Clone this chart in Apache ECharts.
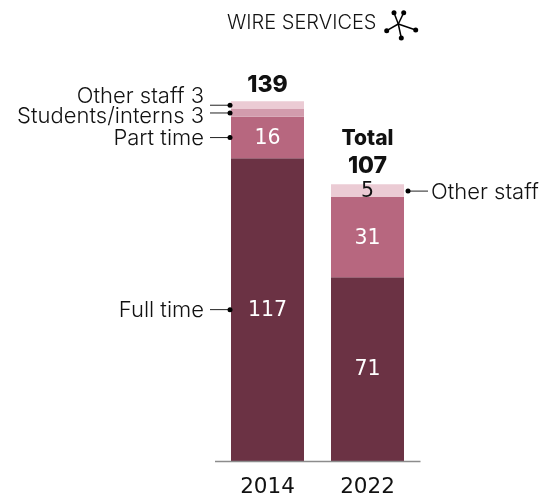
<!DOCTYPE html>
<html><head><meta charset="utf-8">
<style>html,body{margin:0;padding:0;background:#fff}#c{width:541px;height:498px}</style>
<script src="https://cdn.jsdelivr.net/npm/echarts@6/dist/echarts.min.js"></script>
</head><body><div id="c"></div>
<script>
const years = ['2014', '2022'];
const fullTime = [117, 71];
const partTime = [16, 31];
const students = [3, null];
const otherStaff = [3, 5];
const totals = [139, 107];
const FONT = 'Inter, sans-serif';
const NUM = '"DejaVu Sans", sans-serif';

const chart = echarts.init(document.getElementById('c'), null, {renderer: 'canvas'});
function seg(name, data, color, labelColor, minShow) {
  return {
    name, type: 'bar', stack: 'a', barWidth: 73, silent: true,
    itemStyle: {color},
    data: data.map(v => ({value: v, label: {show: v !== null && v >= minShow}})),
    label: {show: true, position: 'inside', offset: [0, 1], color: labelColor, fontFamily: NUM, fontSize: 20.5, fontWeight: 400}
  };
}
chart.setOption({
  animation: false,
  grid: {left: 217.5, width: 200, top: 47, height: 417},
  xAxis: {type: 'category', data: years, axisTick: {show: false}, axisLine: {show: false},
    axisLabel: {color: '#111', fontFamily: NUM, fontSize: 21.5, fontWeight: 400, margin: 15}},
  yAxis: {type: 'value', min: 0, max: 160, show: false},
  series: [
    seg('Full time', fullTime, '#6b3244', '#fff', 6),
    seg('Part time', partTime, '#b7677f', '#fff', 6),
    seg('Students/interns', students, '#d29cad', '#111', 4),
    seg('Other staff', otherStaff, '#ebcbd4', '#111', 4)
  ]
});

const px = (i, v) => chart.convertToPixel({xAxisIndex: 0, yAxisIndex: 0}, [years[i], v]);
const g = [];
const text = (x, y, t, align, extra) => g.push({type: 'text', silent: true, z: 100, style: Object.assign({
  x, y, text: t, align, verticalAlign: 'middle', fill: '#111', fontFamily: FONT, fontSize: 22, fontWeight: 350}, extra || {})});
const line = (x1, y1, x2, y2, color, w) => g.push({type: 'line', silent: true, z: 100,
  shape: {x1, y1, x2, y2}, style: {stroke: color, lineWidth: w}});
const dot = (x, y, r) => g.push({type: 'circle', silent: true, z: 101, shape: {cx: x, cy: y, r}, style: {fill: '#000'}});

// baseline
const base = px(0, 0)[1];
line(215, base + 0.5, 420.5, base + 0.5, '#8c8c8c', 1.5);

// left annotations on the 2014 bar
const leftNote = (label, from, size, textDy) => {
  const y = px(0, from + size / 2)[1];
  line(210, y, 230, y, '#222', 1);
  dot(230, y, 2.5);
  text(204, y + textDy, label, 'right');
};
leftNote('Other staff ' + otherStaff[0], fullTime[0] + partTime[0] + students[0], otherStaff[0], -9);
leftNote('Students/interns ' + students[0], fullTime[0] + partTime[0], students[0], 3);
leftNote('Part time', fullTime[0], partTime[0], 0.5);
leftNote('Full time', 0, fullTime[0], 0.5);

// right annotation on the 2022 bar
const ry = px(1, fullTime[1] + partTime[1] + otherStaff[1] / 2)[1] + 0.5;
line(408, ry, 428, ry, '#222', 1);
dot(408, ry, 2.5);
text(431, ry + 1, 'Other staff', 'left');

// totals
const t0 = px(0, totals[0]);
text(t0[0], t0[1] - 16.5, String(totals[0]), 'center', {fontWeight: 800, fontSize: 23});
const t1 = px(1, totals[1]);
text(t1[0], t1[1] - 18.5, String(totals[1]), 'center', {fontWeight: 800, fontSize: 23});
text(t1[0], t1[1] - 45.5, 'Total', 'center', {fontWeight: 800, fontSize: 21});

// header
text(227, 23, 'WIRE SERVICES', 'left', {fontSize: 20});
const hub = [398.3, 24];
[[394, 12.7], [403.7, 12.7], [386.7, 30.7], [415.7, 30], [401.3, 38]].forEach(p => {
  line(hub[0], hub[1], p[0], p[1], '#000', 1.5);
  dot(p[0], p[1], 2.5);
});
chart.setOption({graphic: g});
</script></body></html>
